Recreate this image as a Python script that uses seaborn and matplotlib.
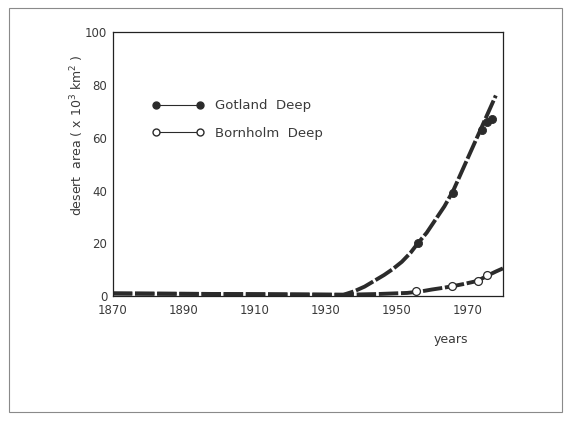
import matplotlib
matplotlib.use("Agg")
import matplotlib.pyplot as plt
from matplotlib.lines import Line2D
from matplotlib.patches import Rectangle
import pandas as pd
import seaborn as sns

# curves
gotland_years = [1870, 1900, 1935, 1938, 1941, 1943.5, 1946.5, 1949, 1951.5, 1954, 1956,
                 1958.5, 1961, 1963.5, 1966, 1968, 1970, 1972, 1974, 1976, 1978]
gotland_area = [1, 0.8, 0.5, 1.8, 3.6, 5.6, 8, 10.3, 13, 16.5, 20,
                24, 29, 34, 40, 46, 52, 58, 64, 70, 76]
bornholm_years = [1870, 1900, 1935, 1945, 1953, 1957, 1960, 1963, 1966, 1969, 1972, 1974, 1976, 1978, 1980]
bornholm_area = [1, 0.8, 0.5, 0.8, 1.2, 1.8, 2.5, 3.1, 3.8, 4.6, 5.5, 6.6, 8, 9.3, 10.5]

# observed points
gotland_obs_years = [1956, 1966, 1974, 1975.5, 1977]
gotland_obs_area = [20, 39, 63, 66, 67]
bornholm_obs_years = [1955.5, 1965.5, 1973, 1975.5]
bornholm_obs_area = [2, 3.8, 5.8, 8]

x_ticks = [1870, 1890, 1910, 1930, 1950, 1970]
y_ticks = [0, 20, 40, 60, 80, 100]

ink = "#2b2b2b"
text_col = "#3a3a3a"

sns.set_style("white")
plt.rcParams["font.family"] = ["DejaVu Sans"]

fig = plt.figure(figsize=(5.67, 4.23), dpi=100)
ax = fig.add_axes([0.199, 0.30, 0.688, 0.624])

# page frame of the scan
fig.patches.append(Rectangle((0.016, 0.025), 0.976, 0.955, transform=fig.transFigure,
                             fill=False, edgecolor="#8a8a8a", lw=0.8))

dash = (0, (5, 0.7))
sns.lineplot(data=pd.DataFrame({"year": gotland_years, "area": gotland_area}),
             x="year", y="area", ax=ax, color=ink, lw=2.8, linestyle=dash)
sns.lineplot(data=pd.DataFrame({"year": bornholm_years, "area": bornholm_area}),
             x="year", y="area", ax=ax, color=ink, lw=2.8, linestyle=dash)

sns.scatterplot(x=gotland_obs_years, y=gotland_obs_area, ax=ax, color=ink, s=34,
                edgecolor=ink, linewidth=0.6, zorder=5)
sns.scatterplot(x=bornholm_obs_years, y=bornholm_obs_area, ax=ax, color="white", s=32,
                edgecolor=ink, linewidth=0.9, zorder=5)

ax.set_xlim(1870, 1980)
ax.set_ylim(0, 100)
ax.set_xticks(x_ticks)
ax.set_yticks(y_ticks)
ax.tick_params(length=0, labelsize=8.5, labelcolor=text_col)
ax.tick_params(axis="x", pad=6)
ax.tick_params(axis="y", pad=4)

for s in ax.spines.values():
    s.set_visible(True)
    s.set_color("#222222")
    s.set_linewidth(0.9)

ax.set_xlabel("years", fontsize=9, color=text_col)
ax.xaxis.set_label_coords(0.867, -0.14)
ax.set_ylabel("desert  area ( x 10$^3$ km$^2$ )", fontsize=9, color=text_col)
ax.yaxis.set_label_coords(-0.068, 0.61)

handles = [
    Line2D([], [], color=ink, lw=0.8, marker="o", markersize=5,
           markerfacecolor=ink, markeredgecolor=ink),
    Line2D([], [], color=ink, lw=0.8, marker="o", markersize=5,
           markerfacecolor="white", markeredgecolor=ink),
]
leg = ax.legend(handles, ["Gotland  Deep", "Bornholm  Deep"], loc="upper left",
                bbox_to_anchor=(0.07, 0.79), frameon=False, numpoints=2,
                handlelength=3.9, handletextpad=0.9, labelspacing=1.1,
                fontsize=9.5)
for t in leg.get_texts():
    t.set_color(text_col)

fig.savefig("out.png", dpi=100)
